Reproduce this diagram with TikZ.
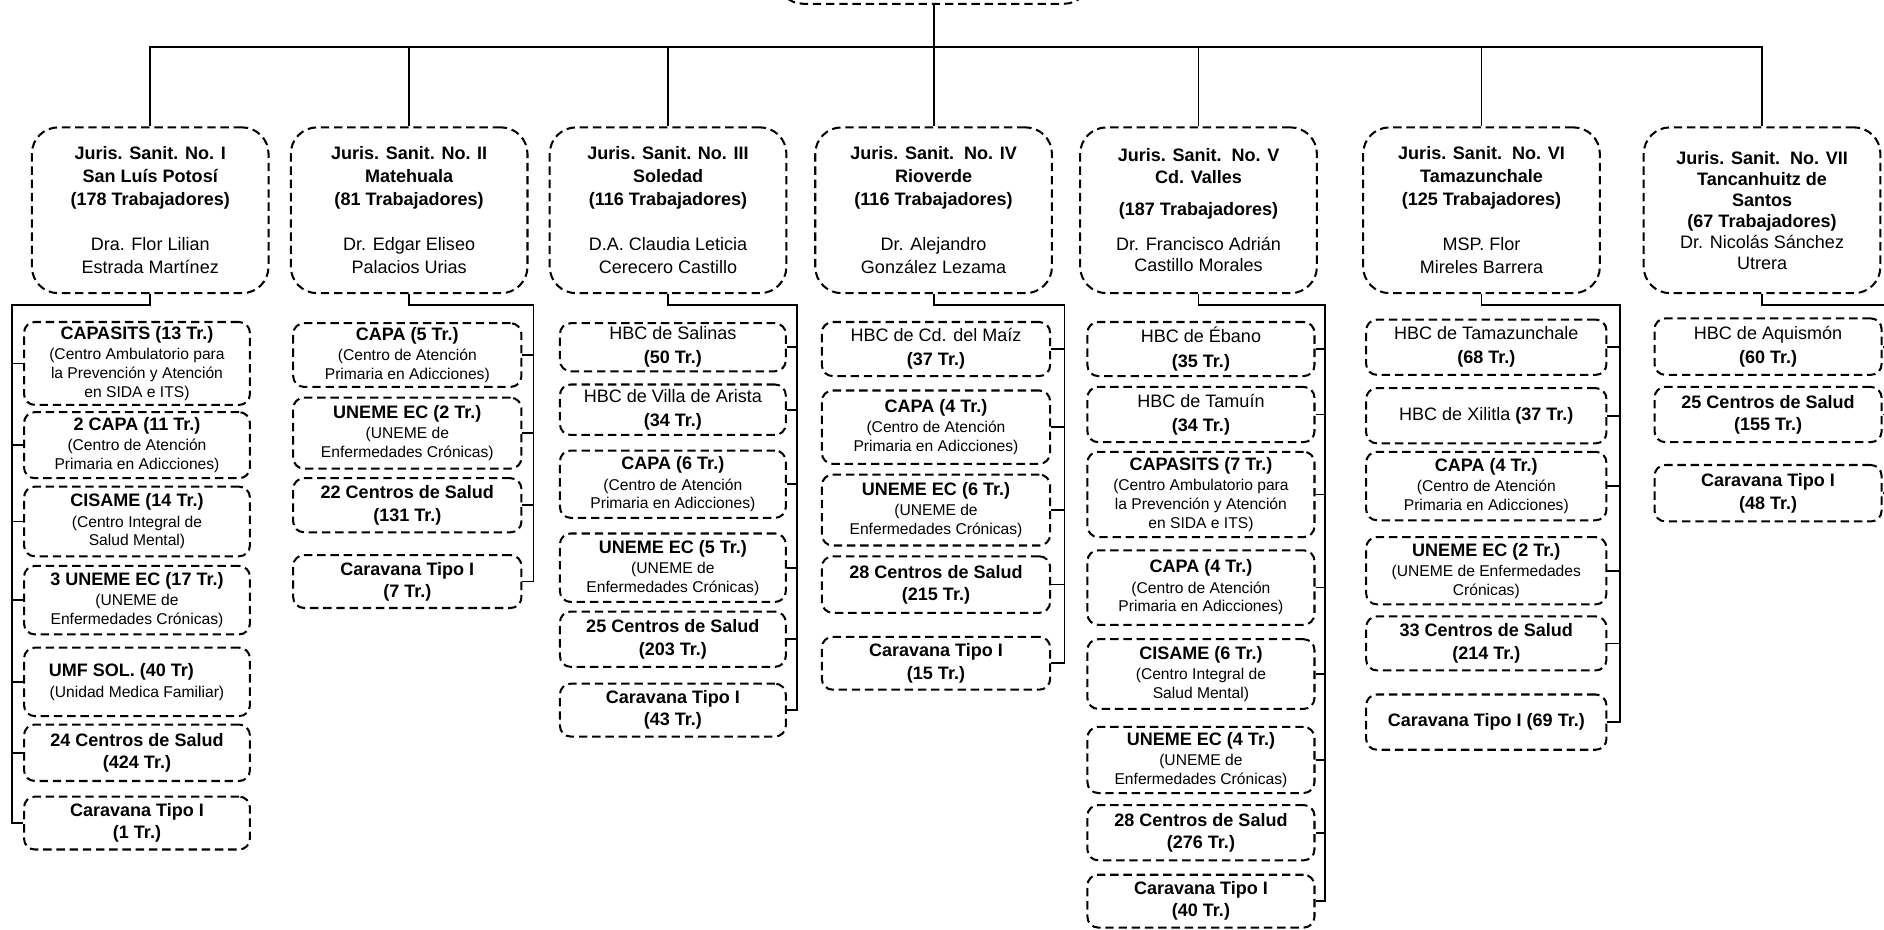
\documentclass[tikz,border=0pt]{standalone}
\usepackage{fontspec}
\setmainfont{Liberation Sans}
\newcommand\myb[1]{{\fontsize{15}{15.5}\selectfont\bfseries #1}}
\newcommand\myr[1]{{\fontsize{15}{15.5}\selectfont #1}}
\tikzset{
  dsh/.style={line width=1.7pt, dash pattern=on 7pt off 4pt},
  hbox/.style={dsh, draw, rounded corners=22pt, minimum width=197pt, minimum height=138pt, inner sep=0pt, align=center, font=\fontsize{15}{19}\selectfont},
  cbox/.style={dsh, draw, rounded corners=9pt, inner sep=0pt, align=center, font=\fontsize{13}{15.5}\selectfont},
  conn/.style={line width=1.5pt},
  wI/.style={minimum width=188pt},
  wII/.style={minimum width=190pt},
  wIII/.style={minimum width=188pt},
  wIV/.style={minimum width=190pt},
  wV/.style={minimum width=189pt},
  wVI/.style={minimum width=200pt},
  wVII/.style={minimum width=189pt},
}
\begin{document}
\begin{tikzpicture}[x=1pt,y=-1pt]
\useasboundingbox (0,0) rectangle (1568,774);
\clip (0,0) rectangle (1568,774);
% top (cut off) box
\node[hbox, minimum width=261pt, minimum height=80pt, anchor=south] (top) at (777,4) {};
% headers
\node[hbox] (h1) at (125,175) {\myb{Juris. Sanit. No. I}\\\myb{San Luís Potosí}\\\myb{(178 Trabajadores)}\\[18.5pt]\myr{Dra. Flor Lilian}\\\myr{Estrada Martínez}};
\node[hbox] (h2) at (340.5,175) {\myb{Juris. Sanit. No. II}\\\myb{Matehuala}\\\myb{(81 Trabajadores)}\\[18.5pt]\myr{Dr. Edgar Eliseo}\\\myr{Palacios Urias}};
\node[hbox] (h3) at (556,175) {\myb{Juris. Sanit. No. III}\\\myb{Soledad}\\\myb{(116 Trabajadores)}\\[18.5pt]\myr{D.A. Claudia Leticia}\\\myr{Cerecero Castillo}};
\node[hbox] (h4) at (777,175) {\myb{Juris. Sanit.\ \ No. IV}\\\myb{Rioverde}\\\myb{(116 Trabajadores)}\\[18.5pt]\myr{Dr. Alejandro}\\\myr{González Lezama}};
\node[hbox] (h5) at (997.5,175) {\myb{Juris. Sanit.\ \ No. V}\\[-0.5pt]\myb{Cd. Valles}\\[7pt]\myb{(187 Trabajadores)}\\[10pt]\myr{Dr. Francisco Adrián}\\[-1pt]\myr{Castillo Morales}};
\node[hbox] (h6) at (1233,175) {\myb{Juris. Sanit.\ \ No. VI}\\\myb{Tamazunchale}\\\myb{(125 Trabajadores)}\\[18.5pt]\myr{MSP. Flor}\\\myr{Mireles Barrera}};
\node[hbox] (h7) at (1466.5,175) {\myb{Juris. Sanit.\ \ No. VII}\\[-1.5pt]\myb{Tancanhuitz de}\\[-1.5pt]\myb{Santos}\\[-1.5pt]\myb{(67 Trabajadores)}\\[-1.5pt]\myr{Dr. Nicolás Sánchez}\\[-1.5pt]\myr{Utrera}};
% top bus
\coordinate (busL) at (125,39);
\draw[conn] (top.south) -- (top.south |- busL);
\draw[conn] (h1.north) -- (h1.north |- busL) -- (h7.north |- busL) -- (h7.north);
\foreach \h in {h2,h3,h4,h5,h6} \draw[conn] (\h.north) -- (\h.north |- busL);
% ---------- column I
\node[cbox,wI,minimum height=69pt] (c1a) at (114,302.5) {\myb{CAPASITS (13 Tr.)}\\[1.5pt](Centro Ambulatorio para\\la Prevención y Atención\\en SIDA e ITS)};
\node[cbox,wI,minimum height=55pt] (c1b) at (114,370.5) {\myb{2 CAPA (11 Tr.)}\\[1.5pt](Centro de Atención\\Primaria en Adicciones)};
\node[cbox,wI,minimum height=58pt] (c1c) at (114,434) {\myb{CISAME (14 Tr.)}\\[1.5pt](Centro Integral de\\Salud Mental)};
\node[cbox,wI,minimum height=57pt] (c1d) at (114,499.5) {\myb{3 UNEME EC (17 Tr.)}\\[1.5pt](UNEME de\\Enfermedades Crónicas)};
\node[cbox,wI,minimum height=57pt] (c1e) at (114,567.5) {\myb{UMF SOL. (40 Tr)}\hspace*{26pt}\\[1.5pt](Unidad Medica Familiar)};
\node[cbox,wI,minimum height=47pt] (c1f) at (114,626.5) {\myb{24 Centros de Salud}\\[3pt]\myb{(424 Tr.)}};
\node[cbox,wI,minimum height=44pt] (c1g) at (114,685) {\myb{Caravana Tipo I}\\[3pt]\myb{(1 Tr.)}};
\coordinate (k1) at (10,254);
\draw[conn] (h1.south) |- (k1) |- (c1g.west);
\foreach \c in {c1a,c1b,c1c,c1d,c1e,c1f} \draw[conn] (\c.west) -- (\c.west -| k1);
% ---------- column II
\node[cbox,wII,minimum height=53pt] (c2a) at (339,295.5) {\myb{CAPA (5 Tr.)}\\[1.5pt](Centro de Atención\\Primaria en Adicciones)};
\node[cbox,wII,minimum height=59pt] (c2b) at (339,360.5) {\myb{UNEME EC (2 Tr.)}\\[1.5pt](UNEME de\\Enfermedades Crónicas)};
\node[cbox,wII,minimum height=45pt] (c2c) at (339,420.5) {\myb{22 Centros de Salud}\\[3pt]\myb{(131 Tr.)}};
\node[cbox,wII,minimum height=44pt] (c2d) at (339,484) {\myb{Caravana Tipo I}\\[3pt]\myb{(7 Tr.)}};
\coordinate (k2) at (444,254);
\draw[conn] (h2.south) |- (k2) |- (c2d.east);
\foreach \c in {c2a,c2b,c2c} \draw[conn] (\c.east) -- (\c.east -| k2);
% ---------- column III
\node[cbox,wIII,minimum height=40pt] (c3a) at (560,289) {\myr{HBC de Salinas}\\[4.5pt]\myb{(50 Tr.)}};
\node[cbox,wIII,minimum height=42pt] (c3b) at (560,341) {\myr{HBC de Villa de Arista}\\[4.5pt]\myb{(34 Tr.)}};
\node[cbox,wIII,minimum height=56pt] (c3c) at (560,403) {\myb{CAPA (6 Tr.)}\\[1.5pt](Centro de Atención\\Primaria en Adicciones)};
\node[cbox,wIII,minimum height=57pt] (c3d) at (560,472.5) {\myb{UNEME EC (5 Tr.)}\\[1.5pt](UNEME de\\Enfermedades Crónicas)};
\node[cbox,wIII,minimum height=46pt] (c3e) at (560,532) {\myb{25 Centros de Salud}\\[3pt]\myb{(203 Tr.)}};
\node[cbox,wIII,minimum height=44pt] (c3f) at (560,591) {\myb{Caravana Tipo I}\\[3pt]\myb{(43 Tr.)}};
\coordinate (k3) at (663,254);
\draw[conn] (h3.south) |- (k3) |- (c3f.east);
\foreach \c in {c3a,c3b,c3c,c3d,c3e} \draw[conn] (\c.east) -- (\c.east -| k3);
% ---------- column IV
\node[cbox,wIV,minimum height=45pt] (c4a) at (779,290.5) {\myr{HBC de Cd. del Maíz}\\[4.5pt]\myb{(37 Tr.)}};
\node[cbox,wIV,minimum height=61pt] (c4b) at (779,355.5) {\myb{CAPA (4 Tr.)}\\[1.5pt](Centro de Atención\\Primaria en Adicciones)};
\node[cbox,wIV,minimum height=59pt] (c4c) at (779,424.5) {\myb{UNEME EC (6 Tr.)}\\[1.5pt](UNEME de\\Enfermedades Crónicas)};
\node[cbox,wIV,minimum height=47pt] (c4d) at (779,486.5) {\myb{28 Centros de Salud}\\[3pt]\myb{(215 Tr.)}};
\node[cbox,wIV,minimum height=44pt] (c4e) at (779,552) {\myb{Caravana Tipo I}\\[3pt]\myb{(15 Tr.)}};
\coordinate (k4) at (886,254);
\draw[conn] (h4.south) |- (k4) |- (c4e.east);
\foreach \c in {c4a,c4b,c4c,c4d} \draw[conn] (\c.east) -- (\c.east -| k4);
% ---------- column V
\node[cbox,wV,minimum height=45pt] (c5a) at (999.5,290.5) {\myr{HBC de Ébano}\\[4.5pt]\myb{(35 Tr.)}};
\node[cbox,wV,minimum height=46pt] (c5b) at (999.5,345) {\myr{HBC de Tamuín}\\[4.5pt]\myb{(34 Tr.)}};
\node[cbox,wV,minimum height=71pt] (c5c) at (999.5,411.5) {\myb{CAPASITS (7 Tr.)}\\[1.5pt](Centro Ambulatorio para\\la Prevención y Atención\\en SIDA e ITS)};
\node[cbox,wV,minimum height=62pt] (c5d) at (999.5,489) {\myb{CAPA (4 Tr.)}\\[1.5pt](Centro de Atención\\Primaria en Adicciones)};
\node[cbox,wV,minimum height=58pt] (c5e) at (999.5,561) {\myb{CISAME (6 Tr.)}\\[1.5pt](Centro Integral de\\Salud Mental)};
\node[cbox,wV,minimum height=55pt] (c5f) at (999.5,632.5) {\myb{UNEME EC (4 Tr.)}\\[1.5pt](UNEME de\\Enfermedades Crónicas)};
\node[cbox,wV,minimum height=46pt] (c5g) at (999.5,693) {\myb{28 Centros de Salud}\\[3pt]\myb{(276 Tr.)}};
\node[cbox,wV,minimum height=44pt] (c5h) at (999.5,750) {\myb{Caravana Tipo I}\\[3pt]\myb{(40 Tr.)}};
\coordinate (k5) at (1103,254);
\draw[conn] (h5.south) |- (k5) |- (c5h.east);
\foreach \c in {c5a,c5b,c5c,c5d,c5e,c5f,c5g} \draw[conn] (\c.east) -- (\c.east -| k5);
% ---------- column VI
\node[cbox,wVI,minimum height=46pt] (c6a) at (1237,289) {\myr{HBC de Tamazunchale}\\[4.5pt]\myb{(68 Tr.)}};
\node[cbox,wVI,minimum height=46pt] (c6b) at (1237,346) {\myr{HBC de Xilitla \textbf{(37 Tr.)}}};
\node[cbox,wVI,minimum height=57pt] (c6c) at (1237,404.5) {\myb{CAPA (4 Tr.)}\\[1.5pt](Centro de Atención\\Primaria en Adicciones)};
\node[cbox,wVI,minimum height=56pt] (c6d) at (1237,475) {\myb{UNEME EC (2 Tr.)}\\[1.5pt](UNEME de Enfermedades\\Crónicas)};
\node[cbox,wVI,minimum height=45pt] (c6e) at (1237,535.5) {\myb{33 Centros de Salud}\\[3pt]\myb{(214 Tr.)}};
\node[cbox,wVI,minimum height=46pt] (c6f) at (1237,601) {\myb{Caravana Tipo I (69 Tr.)}};
\coordinate (k6) at (1348,254);
\draw[conn] (h6.south) |- (k6) |- (c6f.east);
\foreach \c in {c6a,c6b,c6c,c6d,c6e} \draw[conn] (\c.east) -- (\c.east -| k6);
% ---------- column VII
\node[cbox,wVII,minimum height=47pt] (c7a) at (1471.5,288.5) {\myr{HBC de Aquismón}\\[4.5pt]\myb{(60 Tr.)}};
\node[cbox,wVII,minimum height=46pt] (c7b) at (1471.5,345) {\myb{25 Centros de Salud}\\[3pt]\myb{(155 Tr.)}};
\node[cbox,wVII,minimum height=47pt] (c7c) at (1471.5,410.5) {\myb{Caravana Tipo I}\\[3pt]\myb{(48 Tr.)}};
\coordinate (k7) at (1574,254);
\draw[conn] (h7.south) |- (k7) |- (c7c.east);
\foreach \c in {c7a,c7b} \draw[conn] (\c.east) -- (\c.east -| k7);
\end{tikzpicture}
\end{document}
